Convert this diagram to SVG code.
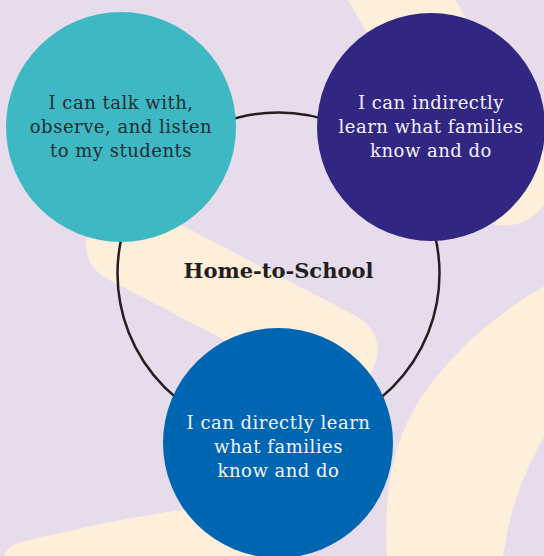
<svg xmlns="http://www.w3.org/2000/svg" width="544" height="556" viewBox="0 0 544 556">
  <style>
    .bg { fill: #E6DCEC; }
    .cream { fill: #FEEFDA; }
    .ring { fill: none; stroke: #231F20; stroke-width: 2.5; }
    .lbl { font-family: "DejaVu Serif", "Liberation Serif", serif; font-size: 18px; letter-spacing: 0.5px; text-anchor: middle; }
    .dark { fill: #1F2E35; }
    .light { fill: #F2F2FA; }
    .title { font-family: "DejaVu Serif", "Liberation Serif", serif; font-size: 21px; font-weight: bold; fill: #231F20; text-anchor: middle; }
  </style>
  <rect class="bg" x="0" y="0" width="544" height="556"/>
  <g id="background-shapes">
    <line x1="365" y1="-64" x2="505" y2="179" stroke="#FEEFDA" stroke-width="93" stroke-linecap="round"/>
    <rect class="cream" x="-122" y="-41" width="316" height="82" rx="38" transform="translate(200 281) rotate(27.5)"/>
    <path class="cream" d="M 4 560 C 4 552 8 546 22 542 C 45 536 70 531 100 524 C 130 518 160 513 200 507 L 270 497 L 270 560 Z"/>
    <path class="cream" d="M 387 560 C 384 500 388 440 430 385 C 465 340 505 308 548 284 L 548 430 C 525 470 508 510 503 560 Z"/>
  </g>
  <g id="connectors">
    <circle class="ring" cx="278.5" cy="273.5" r="161"/>
  </g>
  <g id="node-talk">
    <circle cx="121" cy="127" r="115" fill="#3EB8C3"/>
    <text class="lbl dark" x="121" y="109">I can talk with,</text>
    <text class="lbl dark" x="121" y="133">observe, and listen</text>
    <text class="lbl dark" x="121" y="157">to my students</text>
  </g>
  <g id="node-indirect">
    <circle cx="431" cy="127" r="114" fill="#312783"/>
    <text class="lbl light" x="431" y="109">I can indirectly</text>
    <text class="lbl light" x="431" y="133">learn what families</text>
    <text class="lbl light" x="431" y="157">know and do</text>
  </g>
  <g id="node-direct">
    <circle cx="278" cy="443" r="115" fill="#0066B1"/>
    <text class="lbl light" x="278.5" y="429">I can directly learn</text>
    <text class="lbl light" x="278.5" y="453">what families</text>
    <text class="lbl light" x="278.5" y="477">know and do</text>
  </g>
  <g id="center-label">
    <text class="title" x="278.5" y="278">Home-to-School</text>
  </g>
</svg>
